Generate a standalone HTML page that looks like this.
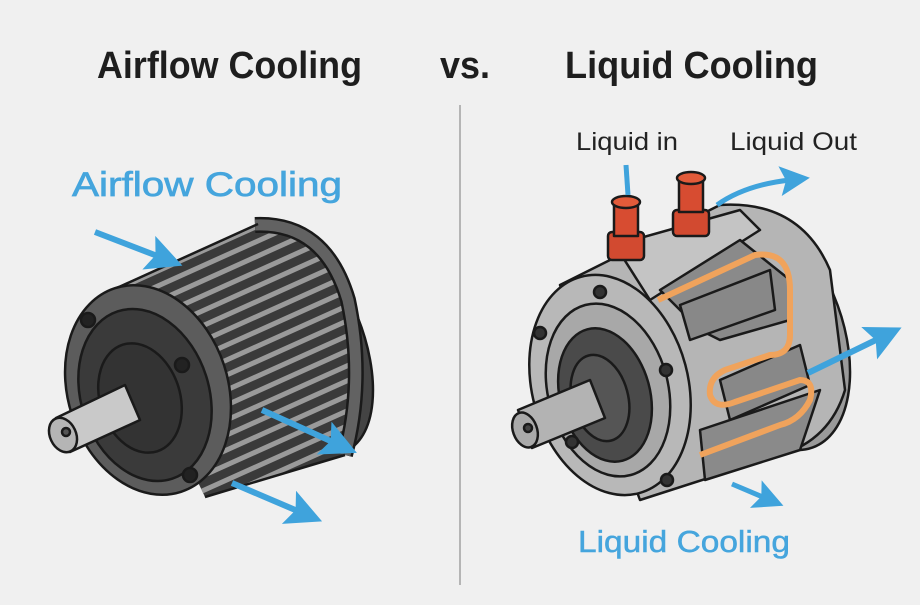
<!DOCTYPE html>
<html><head><meta charset="utf-8"><style>
html,body{margin:0;padding:0;background:#f0f0f0;}
svg{display:block;font-family:"Liberation Sans",sans-serif;}
</style></head><body>
<svg width="920" height="605" viewBox="0 0 920 605" xmlns="http://www.w3.org/2000/svg">
<rect width="920" height="605" fill="#f0f0f0"/>
<defs>
<marker id="ah" markerWidth="6" markerHeight="6" refX="2" refY="3" orient="auto" markerUnits="strokeWidth">
<path d="M0,0 L6,3 L0,6 L1.2,3 Z" fill="#3fa3dc"/></marker>
<clipPath id="bodyL"><path d="M108,292 L262,222 Q335,235 352,330 Q358,420 345,455 L205,497 Z"/></clipPath>
</defs>

<text x="97" y="78" font-size="38" font-weight="bold" fill="#1e1e1e" textLength="265" lengthAdjust="spacingAndGlyphs">Airflow Cooling</text>
<text x="440" y="78" font-size="38" font-weight="bold" fill="#1e1e1e" textLength="50" lengthAdjust="spacingAndGlyphs">vs.</text>
<text x="565" y="78" font-size="38" font-weight="bold" fill="#1e1e1e" textLength="253" lengthAdjust="spacingAndGlyphs">Liquid Cooling</text>
<line x1="460" y1="105" x2="460" y2="585" stroke="#b5b5b5" stroke-width="2"/>
<text x="72" y="196" font-size="34" fill="#45a5dd" stroke="#45a5dd" stroke-width="0.7" textLength="270" lengthAdjust="spacingAndGlyphs">Airflow Cooling</text>
<text x="576" y="150" font-size="25" fill="#222" textLength="102" lengthAdjust="spacingAndGlyphs">Liquid in</text>
<text x="730" y="150" font-size="25" fill="#222" textLength="127" lengthAdjust="spacingAndGlyphs">Liquid Out</text>
<text x="578" y="552" font-size="31" fill="#45a5dd" stroke="#45a5dd" stroke-width="0.5" textLength="212" lengthAdjust="spacingAndGlyphs">Liquid Cooling</text>

<!-- LEFT MOTOR -->
<g stroke="#1a1a1a" stroke-width="2.5" stroke-linejoin="round">
<ellipse cx="300" cy="340" rx="62" ry="120" transform="rotate(-22 300 340)" fill="#444"/>
<path d="M108,292 L262,222 Q335,235 352,330 Q358,420 345,455 L205,497 Z" fill="#3a3a3a" stroke="none"/>
<g clip-path="url(#bodyL)" stroke="#9a9a9a" stroke-width="5">
<line x1="60" y1="300" x2="400" y2="147"/><line x1="60" y1="315" x2="400" y2="162"/>
<line x1="60" y1="330" x2="400" y2="177"/><line x1="60" y1="345" x2="400" y2="192"/>
<line x1="60" y1="360" x2="400" y2="207"/><line x1="60" y1="375" x2="400" y2="222"/>
<line x1="60" y1="390" x2="400" y2="237"/><line x1="60" y1="405" x2="400" y2="252"/>
<line x1="60" y1="420" x2="400" y2="267"/><line x1="60" y1="435" x2="400" y2="282"/>
<line x1="60" y1="450" x2="400" y2="297"/><line x1="60" y1="465" x2="400" y2="312"/>
<line x1="60" y1="480" x2="400" y2="327"/><line x1="60" y1="495" x2="400" y2="342"/>
<line x1="60" y1="510" x2="400" y2="357"/><line x1="60" y1="525" x2="400" y2="372"/>
<line x1="60" y1="540" x2="400" y2="387"/><line x1="60" y1="555" x2="400" y2="402"/>
<line x1="60" y1="570" x2="400" y2="417"/><line x1="60" y1="585" x2="400" y2="432"/>
</g>
<path d="M255,225 Q325,222 348,300 Q365,380 345,455" fill="none" stroke="#1a1a1a" stroke-width="16"/>
<path d="M255,225 Q325,222 348,300 Q365,380 345,455" fill="none" stroke="#626262" stroke-width="11"/>
<line x1="108" y1="292" x2="258" y2="224"/>
<line x1="205" y1="497" x2="345" y2="455"/>
<ellipse cx="148" cy="390" rx="80" ry="107" transform="rotate(-18 148 390)" fill="#5c5c5c"/>
<ellipse cx="145" cy="395" rx="64" ry="88" transform="rotate(-18 145 395)" fill="#3a3a3a"/>
<ellipse cx="140" cy="398" rx="40" ry="56" transform="rotate(-18 140 398)" fill="#333"/>
<circle cx="88" cy="320" r="7" fill="#222"/><circle cx="182" cy="365" r="7" fill="#222"/><circle cx="190" cy="475" r="7" fill="#222"/>
<path d="M56,418 L125,385 L140,420 L70,452 Z" fill="#c9c9c9"/>
<ellipse cx="63" cy="435" rx="13" ry="18" transform="rotate(-25 63 435)" fill="#b5b5b5"/>
<circle cx="66" cy="432" r="4" fill="#555"/>
</g>
<g stroke="#3fa3dc" stroke-width="6" fill="none" marker-end="url(#ah)">
<line x1="95" y1="232" x2="160" y2="257"/>
<line x1="262" y1="410" x2="335" y2="443"/>
<line x1="232" y1="483" x2="300" y2="512"/>
</g>

<!-- RIGHT MOTOR -->
<g stroke="#1a1a1a" stroke-width="2.5" stroke-linejoin="round">
<ellipse cx="770" cy="330" rx="72" ry="125" transform="rotate(-20 770 330)" fill="#9a9a9a"/>
<path d="M560,285 L720,205 Q800,200 830,270 L845,390 Q830,440 780,455 L640,500 Z" fill="#b5b5b5"/>
<path d="M615,245 L740,210 L760,230 L650,300 Z" fill="#c4c4c4"/>
<path d="M660,290 L740,240 L790,280 L790,320 L720,340 L700,330 Z" fill="#8a8a8a"/>
<path d="M680,305 L770,270 L775,310 L690,340 Z" fill="#888"/>
<path d="M720,380 L800,345 L810,385 L730,420 Z" fill="#888"/>
<path d="M700,430 L820,390 L800,450 L705,480 Z" fill="#8a8a8a"/>
<path d="M658,300 L755,255 Q790,250 790,290 L790,335 Q790,355 770,355 L725,370 Q708,378 710,395 Q715,410 735,402 L800,380 Q815,380 810,400 Q800,420 780,425 L700,455" fill="none" stroke="#f0a35c" stroke-width="6"/>
<ellipse cx="610" cy="385" rx="78" ry="112" transform="rotate(-15 610 385)" fill="#b8b8b8"/>
<ellipse cx="608" cy="390" rx="60" ry="88" transform="rotate(-15 608 390)" fill="#a8a8a8"/>
<ellipse cx="605" cy="395" rx="45" ry="68" transform="rotate(-15 605 395)" fill="#4a4a4a"/>
<ellipse cx="600" cy="398" rx="28" ry="44" transform="rotate(-15 600 398)" fill="#555"/>
<circle cx="600" cy="292" r="6" fill="#333"/><circle cx="540" cy="333" r="6" fill="#333"/><circle cx="666" cy="370" r="6" fill="#333"/><circle cx="572" cy="442" r="6" fill="#333"/><circle cx="667" cy="480" r="6" fill="#333"/>
<path d="M518,410 L590,380 L605,418 L532,448 Z" fill="#b3b3b3"/>
<ellipse cx="525" cy="430" rx="12" ry="18" transform="rotate(-20 525 430)" fill="#aaa"/>
<circle cx="528" cy="428" r="4" fill="#444"/>
<rect x="608" y="232" width="36" height="28" rx="4" fill="#d24a30"/>
<rect x="614" y="200" width="24" height="36" fill="#d74c31"/>
<ellipse cx="626" cy="202" rx="14" ry="6" fill="#e25b3a"/>
<rect x="673" y="210" width="36" height="26" rx="4" fill="#d24a30"/>
<rect x="679" y="176" width="24" height="36" fill="#d74c31"/>
<ellipse cx="691" cy="178" rx="14" ry="6" fill="#e25b3a"/>
</g>
<g stroke="#3fa3dc" stroke-width="5" fill="none">
<path d="M626,165 L628,195"/>
<path d="M717,205 Q745,185 790,180" marker-end="url(#ah)"/>
<line x1="808" y1="373" x2="880" y2="338" stroke-width="6" marker-end="url(#ah)"/>
<line x1="732" y1="484" x2="765" y2="498" stroke-width="5" marker-end="url(#ah)"/>
</g>
</svg>
</body></html>
